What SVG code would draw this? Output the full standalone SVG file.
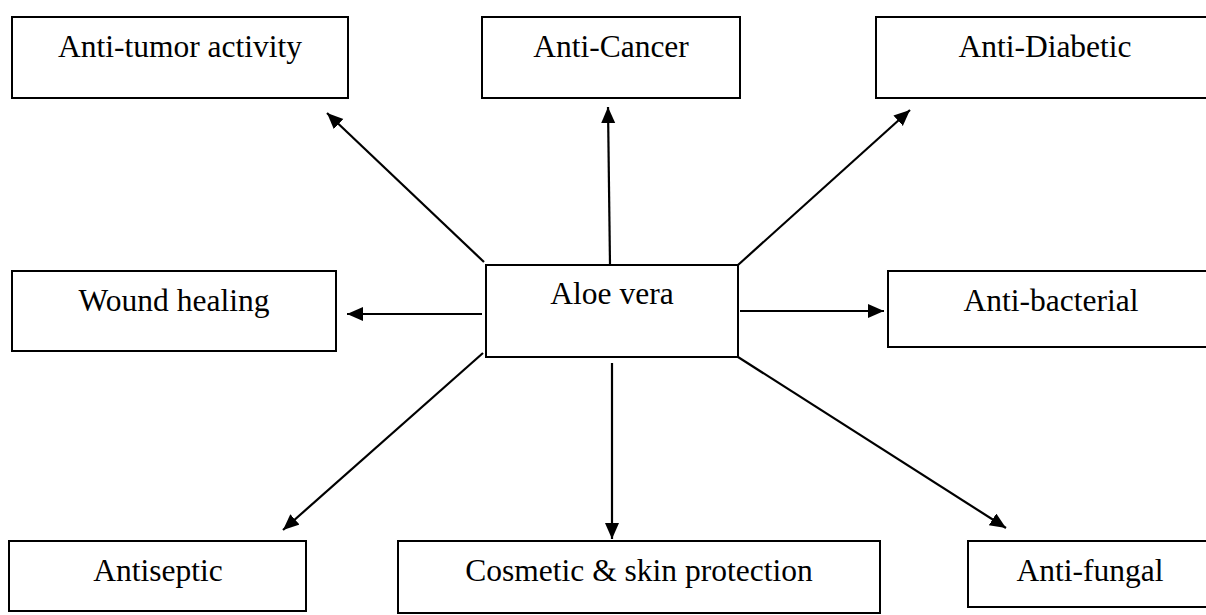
<svg xmlns="http://www.w3.org/2000/svg" width="1206" height="615" viewBox="0 0 1206 615">
<style>
.box{fill:#fff;stroke:#000;stroke-width:2}
.lbl{font-family:"Liberation Serif","Times New Roman",serif;font-size:31.5px;fill:#000;text-anchor:middle}
.conn{stroke:#000;stroke-width:2.2;fill:none;marker-end:url(#ah)}
</style>
<defs>
<marker id="ah" markerUnits="userSpaceOnUse" markerWidth="18" markerHeight="16" refX="16" refY="7" orient="auto">
<path d="M0,0 L16,7 L0,14 z" fill="#000"/>
</marker>
</defs>
<rect width="1206" height="615" fill="#fff"/>
<g id="connectors">
<line class="conn" x1="484" y1="262" x2="327" y2="113"/>
<line class="conn" x1="610" y1="265" x2="608" y2="107"/>
<line class="conn" x1="738" y1="265" x2="910" y2="110"/>
<line class="conn" x1="482" y1="314" x2="347" y2="314"/>
<line class="conn" x1="740" y1="311" x2="884" y2="311"/>
<line class="conn" x1="483" y1="353" x2="283" y2="530"/>
<line class="conn" x1="612" y1="363" x2="612" y2="539"/>
<line class="conn" x1="738" y1="357" x2="1006" y2="528"/>
</g>
<g id="node-antitumor"><rect class="box" x="12" y="17" width="336" height="81"/><text class="lbl" x="180" y="57">Anti-tumor activity</text></g>
<g id="node-anticancer"><rect class="box" x="482" y="17" width="258" height="81"/><text class="lbl" x="611" y="57">Anti-Cancer</text></g>
<g id="node-antidiabetic"><rect class="box" x="876" y="17" width="340" height="81"/><text class="lbl" x="1045" y="57">Anti-Diabetic</text></g>
<g id="node-wound"><rect class="box" x="12" y="271" width="324" height="80"/><text class="lbl" x="174" y="311">Wound healing</text></g>
<g id="node-aloe"><rect class="box" x="486" y="265" width="252" height="92"/><text class="lbl" x="612" y="304">Aloe vera</text></g>
<g id="node-antibacterial"><rect class="box" x="888" y="271" width="328" height="76"/><text class="lbl" x="1051" y="311">Anti-bacterial</text></g>
<g id="node-antiseptic"><rect class="box" x="9" y="541" width="297" height="70"/><text class="lbl" x="158" y="581">Antiseptic</text></g>
<g id="node-cosmetic"><rect class="box" x="398" y="541" width="482" height="72"/><text class="lbl" x="639" y="581">Cosmetic &amp; skin protection</text></g>
<g id="node-antifungal"><rect class="box" x="968" y="541" width="248" height="66"/><text class="lbl" x="1090" y="581">Anti-fungal</text></g>
</svg>
